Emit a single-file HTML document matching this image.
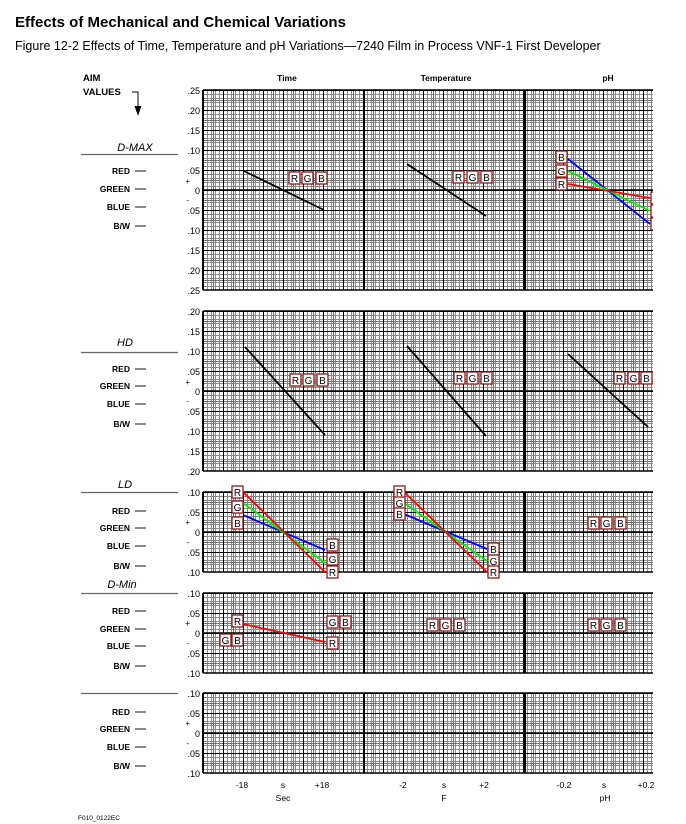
<!DOCTYPE html>
<html><head><meta charset="utf-8"><style>
html,body{margin:0;padding:0;background:#fff;}
svg{display:block;}
text{font-family:"Liberation Sans",Arial,sans-serif;}
.t{font-size:9px;text-anchor:end;}
.l{font-size:8.5px;font-weight:bold;text-anchor:end;}
.b{font-size:10px;text-anchor:middle;}
</style></head><body>
<svg width="686" height="824" viewBox="0 0 686 824" xmlns="http://www.w3.org/2000/svg">
<defs>
<g id="cell">
<rect width="20" height="20" fill="#fff"/>
<path d="M4.5 0V20M8.5 0V20M12.5 0V20M16.5 0V20M0 4.5H20M0 8.5H20M0 12.5H20M0 16.5H20" stroke="#8a8a8a" stroke-width="1"/>
<path d="M10.5 0V20M0 10.5H20" stroke="#707070" stroke-width="1"/>
<path d="M0.5 0V20M0 0.5H20" stroke="#000" stroke-width="1"/>
</g>
<pattern id="p1" x="203" y="90" width="20" height="20" patternUnits="userSpaceOnUse"><use href="#cell"/></pattern>
<pattern id="p2" x="203" y="311" width="20" height="20" patternUnits="userSpaceOnUse"><use href="#cell"/></pattern>
<pattern id="p3" x="203" y="492" width="20" height="20" patternUnits="userSpaceOnUse"><use href="#cell"/></pattern>
<pattern id="p4" x="203" y="593" width="20" height="20" patternUnits="userSpaceOnUse"><use href="#cell"/></pattern>
<pattern id="p5" x="203" y="693" width="20" height="20" patternUnits="userSpaceOnUse"><use href="#cell"/></pattern>
<clipPath id="cl"><rect x="0" y="0" width="653" height="824"/></clipPath>
</defs>

<text x="15" y="27" font-size="15" font-weight="bold">Effects of Mechanical and Chemical Variations</text>
<text x="15" y="50" font-size="12.5">Figure 12-2 Effects of Time, Temperature and pH Variations—7240 Film in Process VNF-1 First Developer</text>

<text x="83" y="81" font-size="9.5" font-weight="bold">AIM</text>
<text x="83" y="95" font-size="9.5" font-weight="bold">VALUES</text>
<path d="M132 92H138V108" stroke="#000" fill="none" stroke-width="1"/>
<path d="M134.5 106L138 116L141.5 106Z" fill="#000"/>

<text x="287" y="81" font-size="8.5" font-weight="bold" text-anchor="middle">Time</text>
<text x="446" y="81" font-size="8.5" font-weight="bold" text-anchor="middle">Temperature</text>
<text x="608" y="81" font-size="8.5" font-weight="bold" text-anchor="middle">pH</text>

<rect x="203" y="90" width="450" height="200" fill="url(#p1)"/>
<rect x="203" y="311" width="450" height="160" fill="url(#p2)"/>
<rect x="203" y="492" width="450" height="80" fill="url(#p3)"/>
<rect x="203" y="593" width="450" height="80" fill="url(#p4)"/>
<rect x="203" y="693" width="450" height="80" fill="url(#p5)"/>
<g stroke="#000" fill="none">
<path d="M203 90V290M203 311V471M203 492V572M203 593V673M203 693V773" stroke-width="2"/>
<path d="M364 90V290M364 311V471M364 492V572M364 593V673M364 693V773M525 90V290M525 311V471M525 492V572M525 593V673M525 693V773" stroke-width="2"/>
<path d="M203 90H653M203 290H653M203 311H653M203 471H653M203 492H653M203 572H653M203 593H653M203 673H653M203 693H653M203 773H653" stroke-width="1.5"/>
<path d="M203 190H653M203 391H653M203 532H653M203 633H653M203 733H653" stroke-width="1.5"/>
</g>

<g class="t">
<text x="200" y="94">.25</text><text x="200" y="114">.20</text><text x="200" y="134">.15</text><text x="200" y="154">.10</text><text x="200" y="174">.05</text>
<text x="200" y="194">0</text><text x="200" y="214">.05</text><text x="200" y="234">.10</text><text x="200" y="254">.15</text><text x="200" y="274">.20</text><text x="200" y="294">.25</text>
<text x="190" y="184" font-size="8">+</text><text x="189" y="203" font-size="8">-</text>
<text x="200" y="315">.20</text><text x="200" y="335">.15</text><text x="200" y="355">.10</text><text x="200" y="375">.05</text><text x="200" y="395">0</text>
<text x="200" y="415">.05</text><text x="200" y="435">.10</text><text x="200" y="455">.15</text><text x="200" y="475">.20</text>
<text x="190" y="385" font-size="8">+</text><text x="189" y="404" font-size="8">-</text>
<text x="200" y="496">.10</text><text x="200" y="516">.05</text><text x="200" y="536">0</text><text x="200" y="556">.05</text><text x="200" y="576">.10</text>
<text x="190" y="525" font-size="8">+</text><text x="189" y="545" font-size="8">-</text>
<text x="200" y="597">.10</text><text x="200" y="617">.05</text><text x="200" y="637">0</text><text x="200" y="657">.05</text><text x="200" y="677">.10</text>
<text x="190" y="626" font-size="8">+</text><text x="189" y="646" font-size="8">-</text>
<text x="200" y="697">.10</text><text x="200" y="717">.05</text><text x="200" y="737">0</text><text x="200" y="757">.05</text><text x="200" y="777">.10</text>
<text x="190" y="726" font-size="8">+</text><text x="189" y="746" font-size="8">-</text>
</g>

<g font-size="11" font-style="italic" text-anchor="middle">
<text x="135" y="151">D-MAX</text><text x="125" y="346">HD</text><text x="125" y="488">LD</text><text x="122" y="588">D-Min</text>
</g>
<path d="M81 154.5H178M81 352.5H178M81 492.5H178M81 593.5H178M81 693.5H178" stroke="#666" stroke-width="1.3"/>
<g class="l">
<text x="130" y="174">RED</text><text x="130" y="192">GREEN</text><text x="130" y="210">BLUE</text><text x="130" y="229">B/W</text>
<text x="130" y="372">RED</text><text x="130" y="389">GREEN</text><text x="130" y="407">BLUE</text><text x="130" y="427">B/W</text>
<text x="130" y="514">RED</text><text x="130" y="531">GREEN</text><text x="130" y="549">BLUE</text><text x="130" y="569">B/W</text>
<text x="130" y="614">RED</text><text x="130" y="632">GREEN</text><text x="130" y="649">BLUE</text><text x="130" y="669">B/W</text>
<text x="130" y="715">RED</text><text x="130" y="732">GREEN</text><text x="130" y="750">BLUE</text><text x="130" y="769">B/W</text>
</g>
<path d="M135 171H146M135 189H146M135 207H146M135 226H146M135 369H146M135 386H146M135 404H146M135 424H146M135 511H146M135 528H146M135 546H146M135 566H146M135 611H146M135 629H146M135 646H146M135 666H146M135 712H146M135 729H146M135 747H146M135 766H146" stroke="#444" stroke-width="1.2"/>

<g font-size="8.5" text-anchor="middle">
<text x="242" y="788">-18</text><text x="283" y="788">s</text><text x="322" y="788">+18</text>
<text x="403" y="788">-2</text><text x="444" y="788">s</text><text x="484" y="788">+2</text>
<text x="564" y="788">-0.2</text><text x="604" y="788">s</text><text x="646" y="788">+0.2</text>
<text x="283" y="801">Sec</text><text x="444" y="801">F</text><text x="605" y="801">pH</text>
</g>
<text x="78" y="820" font-size="6.5">F010_0122EC</text>

<g stroke-width="1.8" fill="none" clip-path="url(#cl)">
<path d="M244 171L324 210M407 164L486 216M245 347L325 435M407 346L486 436M568 354L648 427" stroke="#000"/>
<path d="M568 159L650 224" stroke="#00f"/>
<path d="M568 171L650 211" stroke="#0e0"/>
<path d="M568 184L650 198" stroke="#f00"/>
<path d="M243 515L325 550M404 514L487 549" stroke="#00f"/>
<path d="M243 503L325 563M404 503L487 561" stroke="#0e0"/>
<path d="M243 492L325 572M404 492L487 572" stroke="#f00"/>
<path d="M243 624L325 642" stroke="#f00"/>
</g>

<g class="b" clip-path="url(#cl)">
<g fill="#fff" stroke="#8b1a1a" stroke-width="1.3">
<rect x="289" y="172" width="11" height="12"/><rect x="302" y="172" width="11" height="12"/><rect x="316" y="172" width="11" height="12"/>
<rect x="453" y="171" width="11" height="12"/><rect x="467" y="171" width="11" height="12"/><rect x="481" y="171" width="11" height="12"/>
<rect x="556" y="151" width="11" height="12"/><rect x="556" y="165" width="11" height="12"/><rect x="556" y="178" width="11" height="12"/>
<rect x="651" y="192" width="11" height="12"/><rect x="651" y="205" width="11" height="12"/><rect x="651" y="218" width="11" height="12"/>
<rect x="290" y="374" width="11" height="12"/><rect x="303" y="374" width="11" height="12"/><rect x="317" y="374" width="11" height="12"/>
<rect x="454" y="372" width="11" height="12"/><rect x="467" y="372" width="11" height="12"/><rect x="481" y="372" width="11" height="12"/>
<rect x="614" y="372" width="11" height="12"/><rect x="628" y="372" width="11" height="12"/><rect x="641" y="372" width="11" height="12"/>
<rect x="232" y="486" width="11" height="12"/><rect x="232" y="501" width="11" height="12"/><rect x="232" y="517" width="11" height="12"/>
<rect x="327" y="539" width="11" height="12"/><rect x="327" y="553" width="11" height="12"/><rect x="327" y="566" width="11" height="12"/>
<rect x="394" y="486" width="11" height="12"/><rect x="394" y="497" width="11" height="12"/><rect x="394" y="508" width="11" height="12"/>
<rect x="488" y="543" width="11" height="12"/><rect x="488" y="555" width="11" height="12"/><rect x="488" y="566" width="11" height="12"/>
<rect x="588" y="517" width="11" height="12"/><rect x="601" y="517" width="11" height="12"/><rect x="615" y="517" width="11" height="12"/>
<rect x="232" y="615" width="11" height="12"/><rect x="220" y="634" width="11" height="12"/><rect x="232" y="634" width="11" height="12"/>
<rect x="327" y="616" width="11" height="12"/><rect x="340" y="616" width="11" height="12"/><rect x="327" y="637" width="11" height="12"/>
<rect x="427" y="619" width="11" height="12"/><rect x="440" y="619" width="11" height="12"/><rect x="454" y="619" width="11" height="12"/>
<rect x="588" y="619" width="11" height="12"/><rect x="601" y="619" width="11" height="12"/><rect x="615" y="619" width="11" height="12"/>
</g>
<text x="294.5" y="182">R</text><text x="307.5" y="182">G</text><text x="321.5" y="182">B</text>
<text x="458.5" y="181">R</text><text x="472.5" y="181">G</text><text x="486.5" y="181">B</text>
<text x="561.5" y="161">B</text><text x="561.5" y="175">G</text><text x="561.5" y="188">R</text>
<text x="656.5" y="202">R</text><text x="656.5" y="215">G</text><text x="656.5" y="228">B</text>
<text x="295.5" y="384">R</text><text x="308.5" y="384">G</text><text x="322.5" y="384">B</text>
<text x="459.5" y="382">R</text><text x="472.5" y="382">G</text><text x="486.5" y="382">B</text>
<text x="619.5" y="382">R</text><text x="633.5" y="382">G</text><text x="646.5" y="382">B</text>
<text x="237.5" y="496">R</text><text x="237.5" y="511">G</text><text x="237.5" y="527">B</text>
<text x="332.5" y="549">B</text><text x="332.5" y="563">G</text><text x="332.5" y="576">R</text>
<text x="399.5" y="496">R</text><text x="399.5" y="507">G</text><text x="399.5" y="518">B</text>
<text x="493.5" y="553">B</text><text x="493.5" y="565">G</text><text x="493.5" y="576">R</text>
<text x="593.5" y="527">R</text><text x="606.5" y="527">G</text><text x="620.5" y="527">B</text>
<text x="237.5" y="625">R</text><text x="225.5" y="644">G</text><text x="237.5" y="644">B</text>
<text x="332.5" y="626">G</text><text x="345.5" y="626">B</text><text x="332.5" y="647">R</text>
<text x="432.5" y="629">R</text><text x="445.5" y="629">G</text><text x="459.5" y="629">B</text>
<text x="593.5" y="629">R</text><text x="606.5" y="629">G</text><text x="620.5" y="629">B</text>
</g>
</svg>
</body></html>
